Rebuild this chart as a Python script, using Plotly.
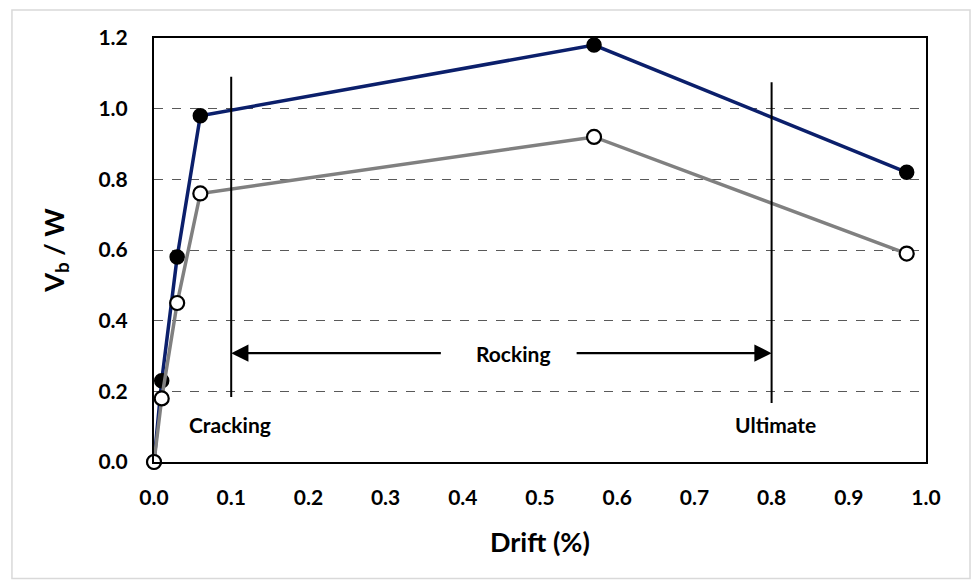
import plotly.graph_objects as go

drift = [0.0, 0.01, 0.03, 0.06, 0.57, 0.975]
vb_blue = [0.0, 0.23, 0.58, 0.98, 1.18, 0.82]
vb_gray = [0.0, 0.18, 0.45, 0.76, 0.92, 0.59]
x_ticks = [0.0, 0.1, 0.2, 0.3, 0.4, 0.5, 0.6, 0.7, 0.8, 0.9, 1.0]
y_ticks = [0.0, 0.2, 0.4, 0.6, 0.8, 1.0, 1.2]
limit_x = [0.1, 0.8]
limit_top = [1.09, 1.075]
limit_bot = [0.184, 0.167]
limit_labels = ["Cracking", "Ultimate"]

FONT = "Lato"
TICK = 21
TITLE = 27
fig = go.Figure()
fig.add_trace(go.Scatter(x=drift, y=vb_blue, mode="lines+markers",
                         line=dict(color="#0B1F6B", width=3.5),
                         marker=dict(size=14, color="black", line=dict(color="black", width=1.5)),
                         cliponaxis=False, showlegend=False))
fig.add_trace(go.Scatter(x=drift, y=vb_gray, mode="lines+markers",
                         line=dict(color="#808080", width=3.5),
                         marker=dict(size=14, color="white", line=dict(color="black", width=2.2)),
                         cliponaxis=False, showlegend=False))

for xv, yt, yb in zip(limit_x, limit_top, limit_bot):
    fig.add_shape(type="line", x0=xv, x1=xv, y0=yb, y1=yt, xref="x", yref="y",
                  line=dict(color="black", width=2))

# outer chart frame
fig.add_shape(type="rect", xref="paper", yref="paper", x0=-0.184, x1=1.057, y0=-0.275, y1=1.066,
              line=dict(color="#D9D9D9", width=1.5), layer="below")

arrow_y = 0.308
fig.add_annotation(x=0.1, y=arrow_y, ax=0.3735, ay=arrow_y, xref="x", yref="y", axref="x", ayref="y",
                   showarrow=True, arrowhead=2, arrowsize=1.5, arrowwidth=2.3, arrowcolor="black", text="")
fig.add_annotation(x=0.8, y=arrow_y, ax=0.5455, ay=arrow_y, xref="x", yref="y", axref="x", ayref="y",
                   showarrow=True, arrowhead=2, arrowsize=1.5, arrowwidth=2.3, arrowcolor="black", text="")
fig.add_annotation(x=0.4645, y=arrow_y, xref="x", yref="y", text="<b>Rocking</b>", showarrow=False,
                   font=dict(family=FONT, size=TICK, color="black"))
fig.add_annotation(x=0.099, y=0.107, xref="x", yref="y", text="<b>" + limit_labels[0] + "</b>", showarrow=False,
                   font=dict(family=FONT, size=TICK, color="black"))
fig.add_annotation(x=0.805, y=0.105, xref="x", yref="y", text="<b>" + limit_labels[1] + "</b>", showarrow=False,
                   font=dict(family=FONT, size=TICK, color="black"))

# axis titles
fig.add_annotation(x=0.5, y=-0.232, xref="paper", yref="paper", text="<b>Drift (%)</b>", showarrow=False,
                   font=dict(family=FONT, size=TITLE, color="black"))
fig.add_annotation(x=-0.155, y=0.5, xref="paper", yref="paper", text="<b>V<sub>b</sub> / W</b>",
                   showarrow=False, textangle=-90, font=dict(family=FONT, size=TITLE, color="black"))

fig.update_layout(
    width=971, height=581,
    margin=dict(l=154, r=45, t=38, b=119),
    paper_bgcolor="white", plot_bgcolor="white",
    font=dict(family=FONT, color="black"),
    xaxis=dict(range=[0, 1.0], tickvals=x_ticks, ticktext=["<b>%.1f</b>" % v for v in x_ticks],
               tickfont=dict(size=TICK, family=FONT), showgrid=False, zeroline=False,
               showline=True, linecolor="black", linewidth=2, mirror=True, ticks="",
               ticklabelstandoff=16),
    yaxis=dict(range=[0, 1.2], tickvals=y_ticks, ticktext=["<b>%.1f</b>" % v for v in y_ticks],
               tickfont=dict(size=TICK, family=FONT), showgrid=True, gridcolor="#595959",
               griddash="dash", gridwidth=1.2, zeroline=False,
               showline=True, linecolor="black", linewidth=2, mirror=True, ticks="",
               ticklabelstandoff=20),
)
fig.write_html("out.html")
